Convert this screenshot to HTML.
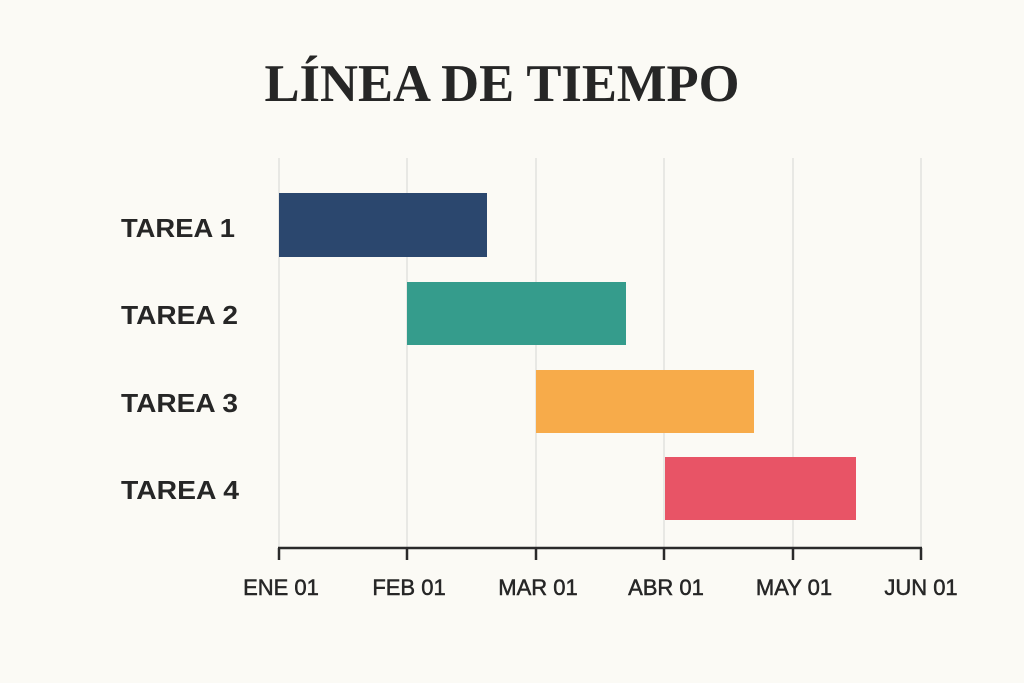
<!DOCTYPE html>
<html><head><meta charset="utf-8"><style>
html,body{margin:0;padding:0;background:#fbfaf5;}
svg{display:block}
</style></head><body>
<svg width="1024" height="683" viewBox="0 0 1024 683" xmlns="http://www.w3.org/2000/svg">
<rect width="1024" height="683" fill="#fbfaf5"/>
<text x="502" y="101" text-anchor="middle" font-family="Liberation Serif, serif" font-weight="bold" font-size="53" fill="#262626" textLength="475" lengthAdjust="spacingAndGlyphs">LÍNEA DE TIEMPO</text>
<g stroke="#e2e2de" stroke-width="1.5">
<line x1="279" y1="158" x2="279" y2="548"/>
<line x1="407" y1="158" x2="407" y2="548"/>
<line x1="536" y1="158" x2="536" y2="548"/>
<line x1="664" y1="158" x2="664" y2="548"/>
<line x1="793" y1="158" x2="793" y2="548"/>
<line x1="921" y1="158" x2="921" y2="548"/>
</g>
<rect x="279" y="193" width="208" height="64" fill="#2b476e"/>
<rect x="407" y="282" width="219" height="63" fill="#359c8c"/>
<rect x="536" y="370" width="218" height="63" fill="#f7ab4a"/>
<rect x="665" y="457" width="191" height="63" fill="#e85466"/>
<g stroke="#2a2a2a" stroke-width="2.5">
<line x1="278" y1="548" x2="922" y2="548"/>
<line x1="279" y1="548" x2="279" y2="560"/>
<line x1="407" y1="548" x2="407" y2="560"/>
<line x1="536" y1="548" x2="536" y2="560"/>
<line x1="664" y1="548" x2="664" y2="560"/>
<line x1="793" y1="548" x2="793" y2="560"/>
<line x1="921" y1="548" x2="921" y2="560"/>
</g>
<g font-family="Liberation Sans, sans-serif" font-weight="bold" font-size="26" fill="#262626">
<text x="121" y="237" textLength="114" lengthAdjust="spacingAndGlyphs">TAREA 1</text>
<text x="121" y="324" textLength="117" lengthAdjust="spacingAndGlyphs">TAREA 2</text>
<text x="121" y="412" textLength="117" lengthAdjust="spacingAndGlyphs">TAREA 3</text>
<text x="121" y="499" textLength="118" lengthAdjust="spacingAndGlyphs">TAREA 4</text>
</g>
<g font-family="Liberation Sans, sans-serif" font-size="22" fill="#262626" stroke="#262626" stroke-width="0.5" text-anchor="middle">
<text x="281" y="595">ENE 01</text>
<text x="409" y="595">FEB 01</text>
<text x="538" y="595">MAR 01</text>
<text x="666" y="595">ABR 01</text>
<text x="794" y="595">MAY 01</text>
<text x="921" y="595">JUN 01</text>
</g>
</svg>
</body></html>
